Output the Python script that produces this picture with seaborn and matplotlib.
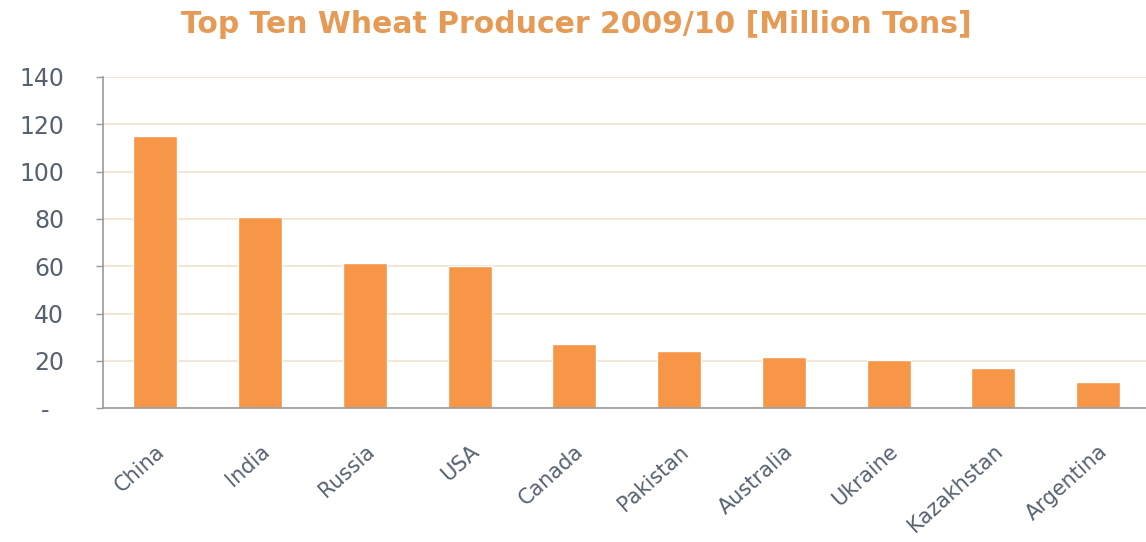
import numpy as np
import pandas as pd
import matplotlib
matplotlib.use('Agg')
import matplotlib.pyplot as plt
import seaborn as sns

# data
countries = ['China', 'India', 'Russia', 'USA', 'Canada', 'Pakistan',
             'Australia', 'Ukraine', 'Kazakhstan', 'Argentina']
production = [115, 81, 61.5, 60, 27, 24, 21.5, 20.5, 17, 11]
y_ticks = [0, 20, 40, 60, 80, 100, 120, 140]
y_tick_labels = ['-  ', '20', '40', '60', '80', '100', '120', '140']

df = pd.DataFrame({'country': countries, 'production': production})

sns.set_theme(style='white')
plt.rcParams['font.family'] = ['DejaVu Sans']

bar_color = '#F79646'
text_color = '#56626F'
axis_color = '#9A9A9A'

fig = plt.figure(figsize=(11.46, 5.42), dpi=100)
ax = fig.add_axes([0.0899, 0.247, 0.914, 0.611])

sns.barplot(data=df, x='country', y='production', color=bar_color,
            width=0.42, saturation=1, ax=ax)

ax.set_ylim(0, 140)
ax.set_xlim(-0.5, 9.5)
ax.set_yticks(y_ticks)
ax.set_yticklabels(y_tick_labels, color=text_color, fontsize=17)
ax.yaxis.grid(True, color='#F1E2D0', linewidth=1.2)
ax.set_axisbelow(True)

# category ticks sit between bars
ax.set_xticks(range(len(countries)))
ax.set_xticklabels(countries, rotation=42, ha='right', rotation_mode='anchor',
                   color=text_color, fontsize=15)
ax.tick_params(axis='x', which='major', length=0, pad=24)
ax.set_xticks(np.arange(-0.5, len(countries), 1.0), minor=True)
ax.tick_params(axis='x', which='minor', length=5, color=axis_color, width=1)
ax.tick_params(axis='y', length=5, color=axis_color, width=1, left=True, pad=23)

for side in ['top', 'right']:
    ax.spines[side].set_visible(False)
for side in ['left', 'bottom']:
    ax.spines[side].set_color(axis_color)
    ax.spines[side].set_linewidth(1.2)

ax.set_xlabel('')
ax.set_ylabel('')

fig.text(0.503, 0.939, 'Top Ten Wheat Producer 2009/10 [Million Tons]',
         ha='center', va='baseline', fontsize=21.5, fontweight='bold', color='#E59A55')

plt.savefig('out.png', dpi=100)
